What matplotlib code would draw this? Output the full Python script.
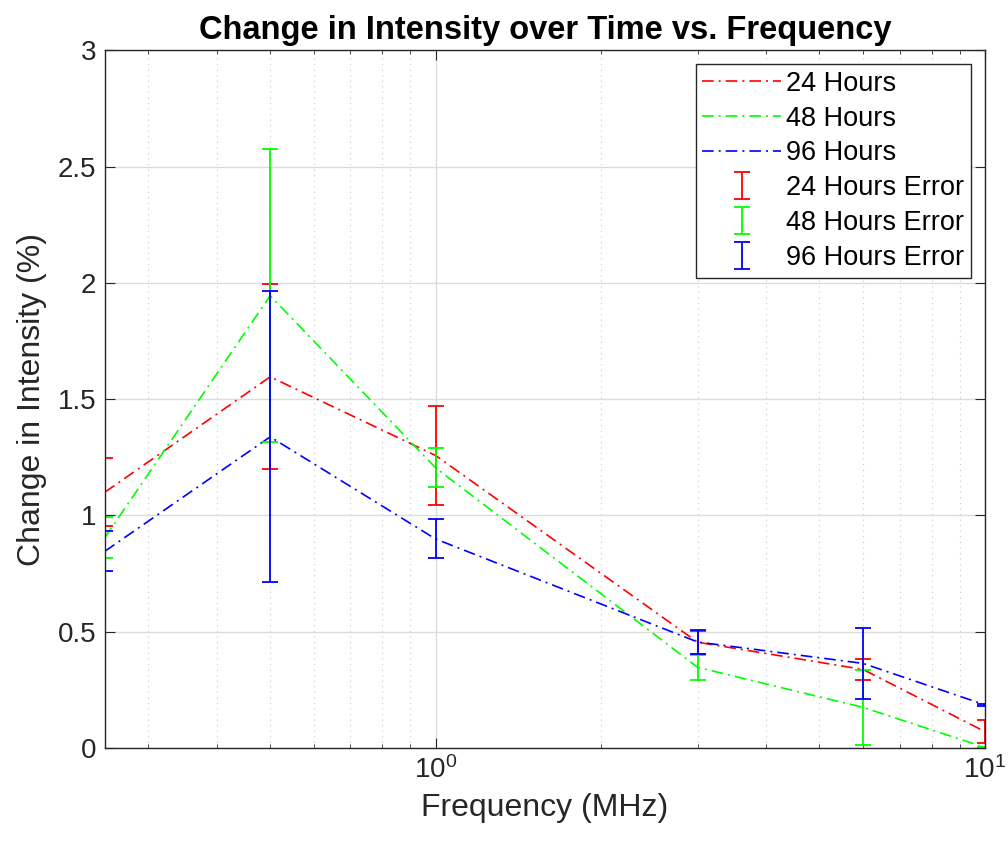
"""Change in intensity vs frequency, MATLAB-style log-x plot with error bars."""
import matplotlib
matplotlib.use("Agg")
import matplotlib.pyplot as plt
from matplotlib.ticker import LogLocator, NullFormatter, FixedLocator

plt.rcParams["font.family"] = ["Liberation Sans", "DejaVu Sans"]
plt.rcParams["mathtext.fontset"] = "custom"
plt.rcParams["mathtext.rm"] = "Liberation Sans"

freq = [0.25, 0.5, 1, 3, 6, 10]

int_24 = [1.100, 1.596, 1.258, 0.455, 0.338, 0.071]
err_24 = [0.147, 0.397, 0.213, 0.050, 0.046, 0.049]

int_48 = [0.905, 1.945, 1.205, 0.347, 0.175, 0.003]
err_48 = [0.087, 0.630, 0.084, 0.053, 0.162, 0.003]

int_96 = [0.846, 1.338, 0.899, 0.456, 0.364, 0.186]
err_96 = [0.086, 0.626, 0.084, 0.051, 0.152, 0.004]

labels = ["24 Hours", "48 Hours", "96 Hours"]
colors = ["#ff0000", "#00ff00", "#0000ff"]

fig = plt.figure(figsize=(10.08, 8.52), dpi=100)
ax = fig.add_axes([0.104, 0.122, 0.873, 0.819])

series = [(int_24, err_24), (int_48, err_48), (int_96, err_96)]

# lines first so the legend lists them before the error entries
for (vals, _), lab, c in zip(series, labels, colors):
    ax.plot(freq, vals, linestyle="-.", dashes=(7, 3, 1.2, 3), color=c,
            linewidth=1.2, label=lab)
for (vals, errs), lab, c in zip(series, labels, colors):
    ax.errorbar(freq, vals, yerr=errs, fmt="none", ecolor=c, elinewidth=1.3,
                capsize=5.5, capthick=1.3, label=f"{lab} Error")

ax.set_xscale("log")
ax.set_xlim(0.25, 10)
ax.set_ylim(0, 3)
ax.set_yticks([0, 0.5, 1, 1.5, 2, 2.5, 3])
ax.set_yticklabels(["0", "0.5", "1", "1.5", "2", "2.5", "3"])
ax.xaxis.set_major_locator(FixedLocator([1, 10]))
ax.xaxis.set_minor_locator(LogLocator(base=10, subs=range(2, 10)))
ax.xaxis.set_minor_formatter(NullFormatter())

ax.grid(True, which="major", color="#dcdcdc", linewidth=1.0)
ax.grid(True, which="minor", axis="x", color="#c8c8c8", linestyle=(0, (1, 4)), linewidth=0.8)
ax.set_axisbelow(True)

ax.tick_params(which="both", direction="in", top=True, right=True,
               labelsize=20, colors="#262626")
ax.tick_params(which="major", length=7, pad=6)
ax.tick_params(which="minor", length=3)
for s in ax.spines.values():
    s.set_color("#262626")
    s.set_linewidth(1.0)

ax.set_xlabel("Frequency (MHz)", fontsize=23, color="#262626", labelpad=6)
ax.set_ylabel("Change in Intensity (%)", fontsize=23, color="#262626", labelpad=8)
ax.set_title("Change in Intensity over Time vs. Frequency", fontsize=23.5,
             fontweight="bold", color="black", pad=8)

leg = ax.legend(loc="upper right", fontsize=19.5, frameon=True, fancybox=False,
                edgecolor="#262626", framealpha=1.0, handlelength=2.9,
                borderaxespad=0.5, labelspacing=0.33, borderpad=0.25,
                handletextpad=0.2)
leg.get_frame().set_linewidth(1.0)

fig.savefig("out.png", dpi=100)
